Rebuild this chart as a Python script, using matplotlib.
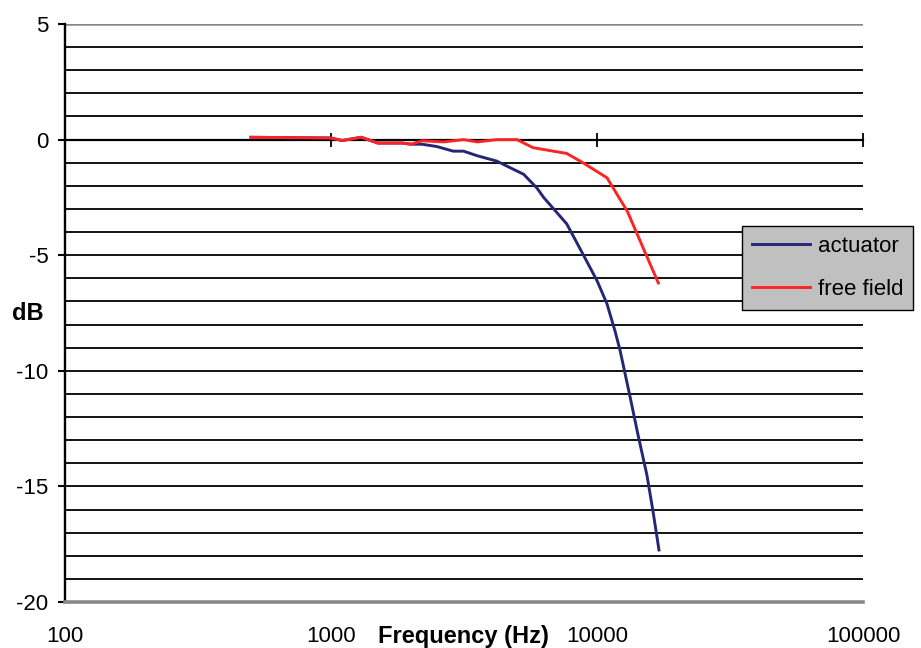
import matplotlib
matplotlib.use("Agg")
import matplotlib.pyplot as plt
from matplotlib.ticker import MultipleLocator, NullLocator, FixedLocator

plt.rcParams['font.family'] = ['Liberation Sans', 'DejaVu Sans']

# values
actuatorFreq = [500, 1000, 1100, 1300, 1500, 1850, 2000, 2200, 2500, 2880,
                3150, 3550, 4200, 5000, 5300, 5950, 6300, 7700, 8850, 10000,
                10900, 11700, 12200, 13300, 14250, 15400, 16250, 17100]
actuatorDb = [0.1, 0.07, -0.04, 0.1, -0.15, -0.15, -0.2, -0.2, -0.3, -0.5,
              -0.5, -0.7, -0.93, -1.36, -1.5, -2.1, -2.5, -3.65, -4.95, -6.1,
              -7.1, -8.3, -9.1, -11.1, -12.75, -14.5, -16.1, -17.75]

freeFieldFreq = [500, 1000, 1100, 1300, 1500, 1850, 2000, 2200, 2650, 3150,
                 3550, 4200, 5000, 5750, 7700, 8850, 10900, 13000, 17000]
freeFieldDb = [0.1, 0.07, -0.04, 0.1, -0.15, -0.15, -0.2, -0.05, -0.1, 0.0,
               -0.1, 0.0, 0.0, -0.35, -0.6, -1.0, -1.65, -3.1, -6.2]

xTicks = [100, 1000, 10000, 100000]
xTickLabels = ["100", "1000", "10000", "100000"]
yTicks = [5, 0, -5, -10, -15, -20]

W, H = 921, 648
fig = plt.figure(figsize=(W / 100, H / 100), dpi=100)
ax = fig.add_axes([65 / W, 46 / H, 798 / W, 578 / H])

ax.set_xscale('log')
ax.set_xlim(100, 100000)
ax.set_ylim(-20, 5)

ax.plot(actuatorFreq, actuatorDb, color='#262676', lw=2.1,
        label='actuator', zorder=3)
ax.plot(freeFieldFreq, freeFieldDb, color='#ff2424', lw=2.1,
        label='free field', zorder=4)

# horizontal gridlines every 1 dB
ax.yaxis.set_major_locator(FixedLocator(yTicks))
ax.yaxis.set_minor_locator(MultipleLocator(1))
ax.grid(which='both', axis='y', color='black', lw=1.3)
ax.grid(False, axis='x', which='both')
ax.axhline(5, color='#888888', lw=1.8, zorder=2)

# spines: x axis crosses at 0
ax.spines['right'].set_visible(False)
ax.spines['top'].set_position(('data', 0))
ax.spines['top'].set_linewidth(1.6)
ax.spines['top'].set_zorder(2.5)
ax.spines['bottom'].set_color('#888888')
ax.spines['bottom'].set_linewidth(2.6)
ax.spines['left'].set_linewidth(1.7)

ax.xaxis.set_major_locator(FixedLocator(xTicks))
ax.xaxis.set_minor_locator(NullLocator())
ax.set_xticklabels(xTickLabels)
ax.tick_params(axis='x', which='major', bottom=False, top=True,
               labelbottom=True, labeltop=False, direction='inout',
               length=10, width=1.3, pad=12, labelsize=16)
ax.tick_params(axis='y', which='major', direction='out', length=5,
               width=1.5, pad=7, labelsize=16)
ax.tick_params(axis='y', which='minor', left=False)
ax.set_yticklabels([str(v) for v in yTicks])

fig.text(463 / W, 1 - 636 / H, "Frequency (Hz)", fontsize=17,
         fontweight='bold', ha='center', va='center')
fig.text(28 / W, 1 - 313 / H, "dB", fontsize=17, fontweight='bold',
         ha='center', va='center')

leg = ax.legend(loc='upper left', bbox_to_anchor=(742 / W, 1 - 226 / H),
                bbox_transform=fig.transFigure, fontsize=16,
                frameon=True, fancybox=False, framealpha=1,
                facecolor='#c0c0c0', edgecolor='black', borderaxespad=0,
                borderpad=0.45, handlelength=2.6, handletextpad=0.35,
                labelspacing=1.0)
leg.get_frame().set_linewidth(1.0)

fig.savefig("out.png", dpi=100)
